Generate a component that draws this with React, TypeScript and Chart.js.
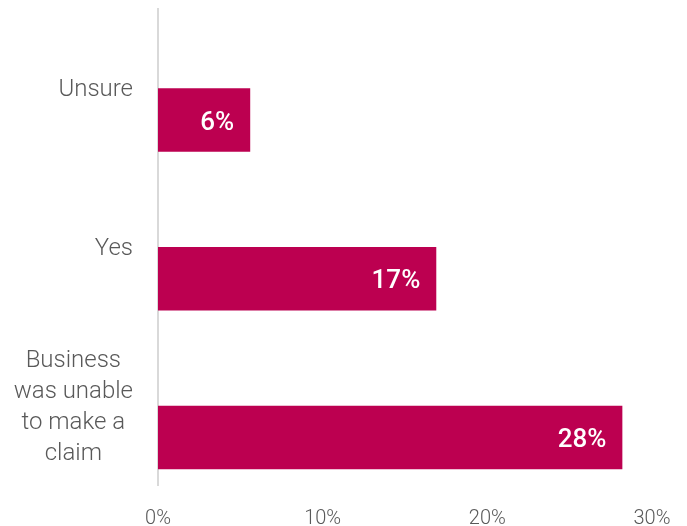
import React, { useEffect, useRef } from "react";
import { Chart, registerables } from "chart.js";

Chart.register(...registerables);

const categories: (string | string[])[] = [
  "Unsure",
  "Yes",
  ["Business", "was unable", "to make a", "claim"],
];
const values = [5.6, 16.9, 28.2];
const spacer = [null, null, null];
const xTicks = [0, 10, 20, 30];

const BAR = "#BC0050";
const TEXT = "#595959";
const FONT = "Roboto";

const yLabelPlugin = {
  id: "yLabelPlugin",
  afterDraw(chart: any) {
    const ctx = chart.ctx;
    const yScale = chart.scales.y;
    const right = chart.chartArea.left - 25;
    ctx.save();
    ctx.font = `300 24px ${FONT}`;
    ctx.fillStyle = TEXT;
    ctx.textAlign = "center";
    ctx.textBaseline = "middle";
    const lh = 31;
    categories.forEach((c, i) => {
      const lines = Array.isArray(c) ? c : [c];
      const w = Math.max(...lines.map((l) => ctx.measureText(l).width));
      const cx = right - w / 2;
      const cy = yScale.getPixelForTick(i) + 2;
      lines.forEach((l, j) => {
        ctx.fillText(l, cx, cy + (j - (lines.length - 1) / 2) * lh);
      });
    });
    ctx.restore();
  },
};

const valueLabelPlugin = {
  id: "valueLabelPlugin",
  afterDatasetsDraw(chart: any) {
    const ctx = chart.ctx;
    const meta = chart.getDatasetMeta(1);
    ctx.save();
    ctx.font = `500 26px ${FONT}`;
    ctx.fillStyle = "#ffffff";
    ctx.textAlign = "right";
    ctx.textBaseline = "middle";
    meta.data.forEach((bar: any, i: number) => {
      ctx.fillText(`${Math.round(values[i])}%`, bar.x - 16, bar.y + 3);
    });
    ctx.restore();
  },
};

export default function App() {
  const ref = useRef<HTMLCanvasElement>(null);
  useEffect(() => {
    if (!ref.current) return;
    const chart = new Chart(ref.current, {
      type: "bar",
      data: {
        labels: categories.map((c) => (Array.isArray(c) ? c.join(" ") : c)),
        datasets: [
          { label: "spacer", data: spacer as any, backgroundColor: "transparent" },
          { label: "Share", data: values, backgroundColor: BAR },
        ],
      },
      options: {
        indexAxis: "y",
        animation: false,
        responsive: false,
        maintainAspectRatio: false,
        layout: { padding: { top: 9, right: 35, bottom: 0, left: 0 } },
        datasets: { bar: { categoryPercentage: 0.8, barPercentage: 1.0 } },
        plugins: { legend: { display: false }, tooltip: { enabled: false } },
        scales: {
          x: {
            min: 0,
            max: 30,
            afterBuildTicks: (s: any) => {
              s.ticks = xTicks.map((v) => ({ value: v }));
            },
            afterFit: (s: any) => {
              s.height = 41;
              s.paddingLeft = 0;
              s.paddingRight = 0;
            },
            grid: { display: false, drawTicks: false },
            border: { display: false },
            ticks: {
              padding: 22,
              color: TEXT,
              font: { family: FONT, size: 20, weight: "300" as any },
              callback: (v: any) => `${v}%`,
            },
          },
          y: {
            grid: { display: false, drawTicks: false },
            border: { display: true, color: "#d9d9d9", width: 2 },
            ticks: { display: false },
            afterFit: (s: any) => {
              s.width = 158;
            },
          },
        },
      },
      plugins: [yLabelPlugin, valueLabelPlugin],
    });
    return () => chart.destroy();
  }, []);
  return (
    <div style={{ position: "fixed", left: 0, top: 0, width: 687, height: 526 }}>
      <canvas ref={ref} width={687} height={526} style={{ width: 687, height: 526 }} />
    </div>
  );
}
